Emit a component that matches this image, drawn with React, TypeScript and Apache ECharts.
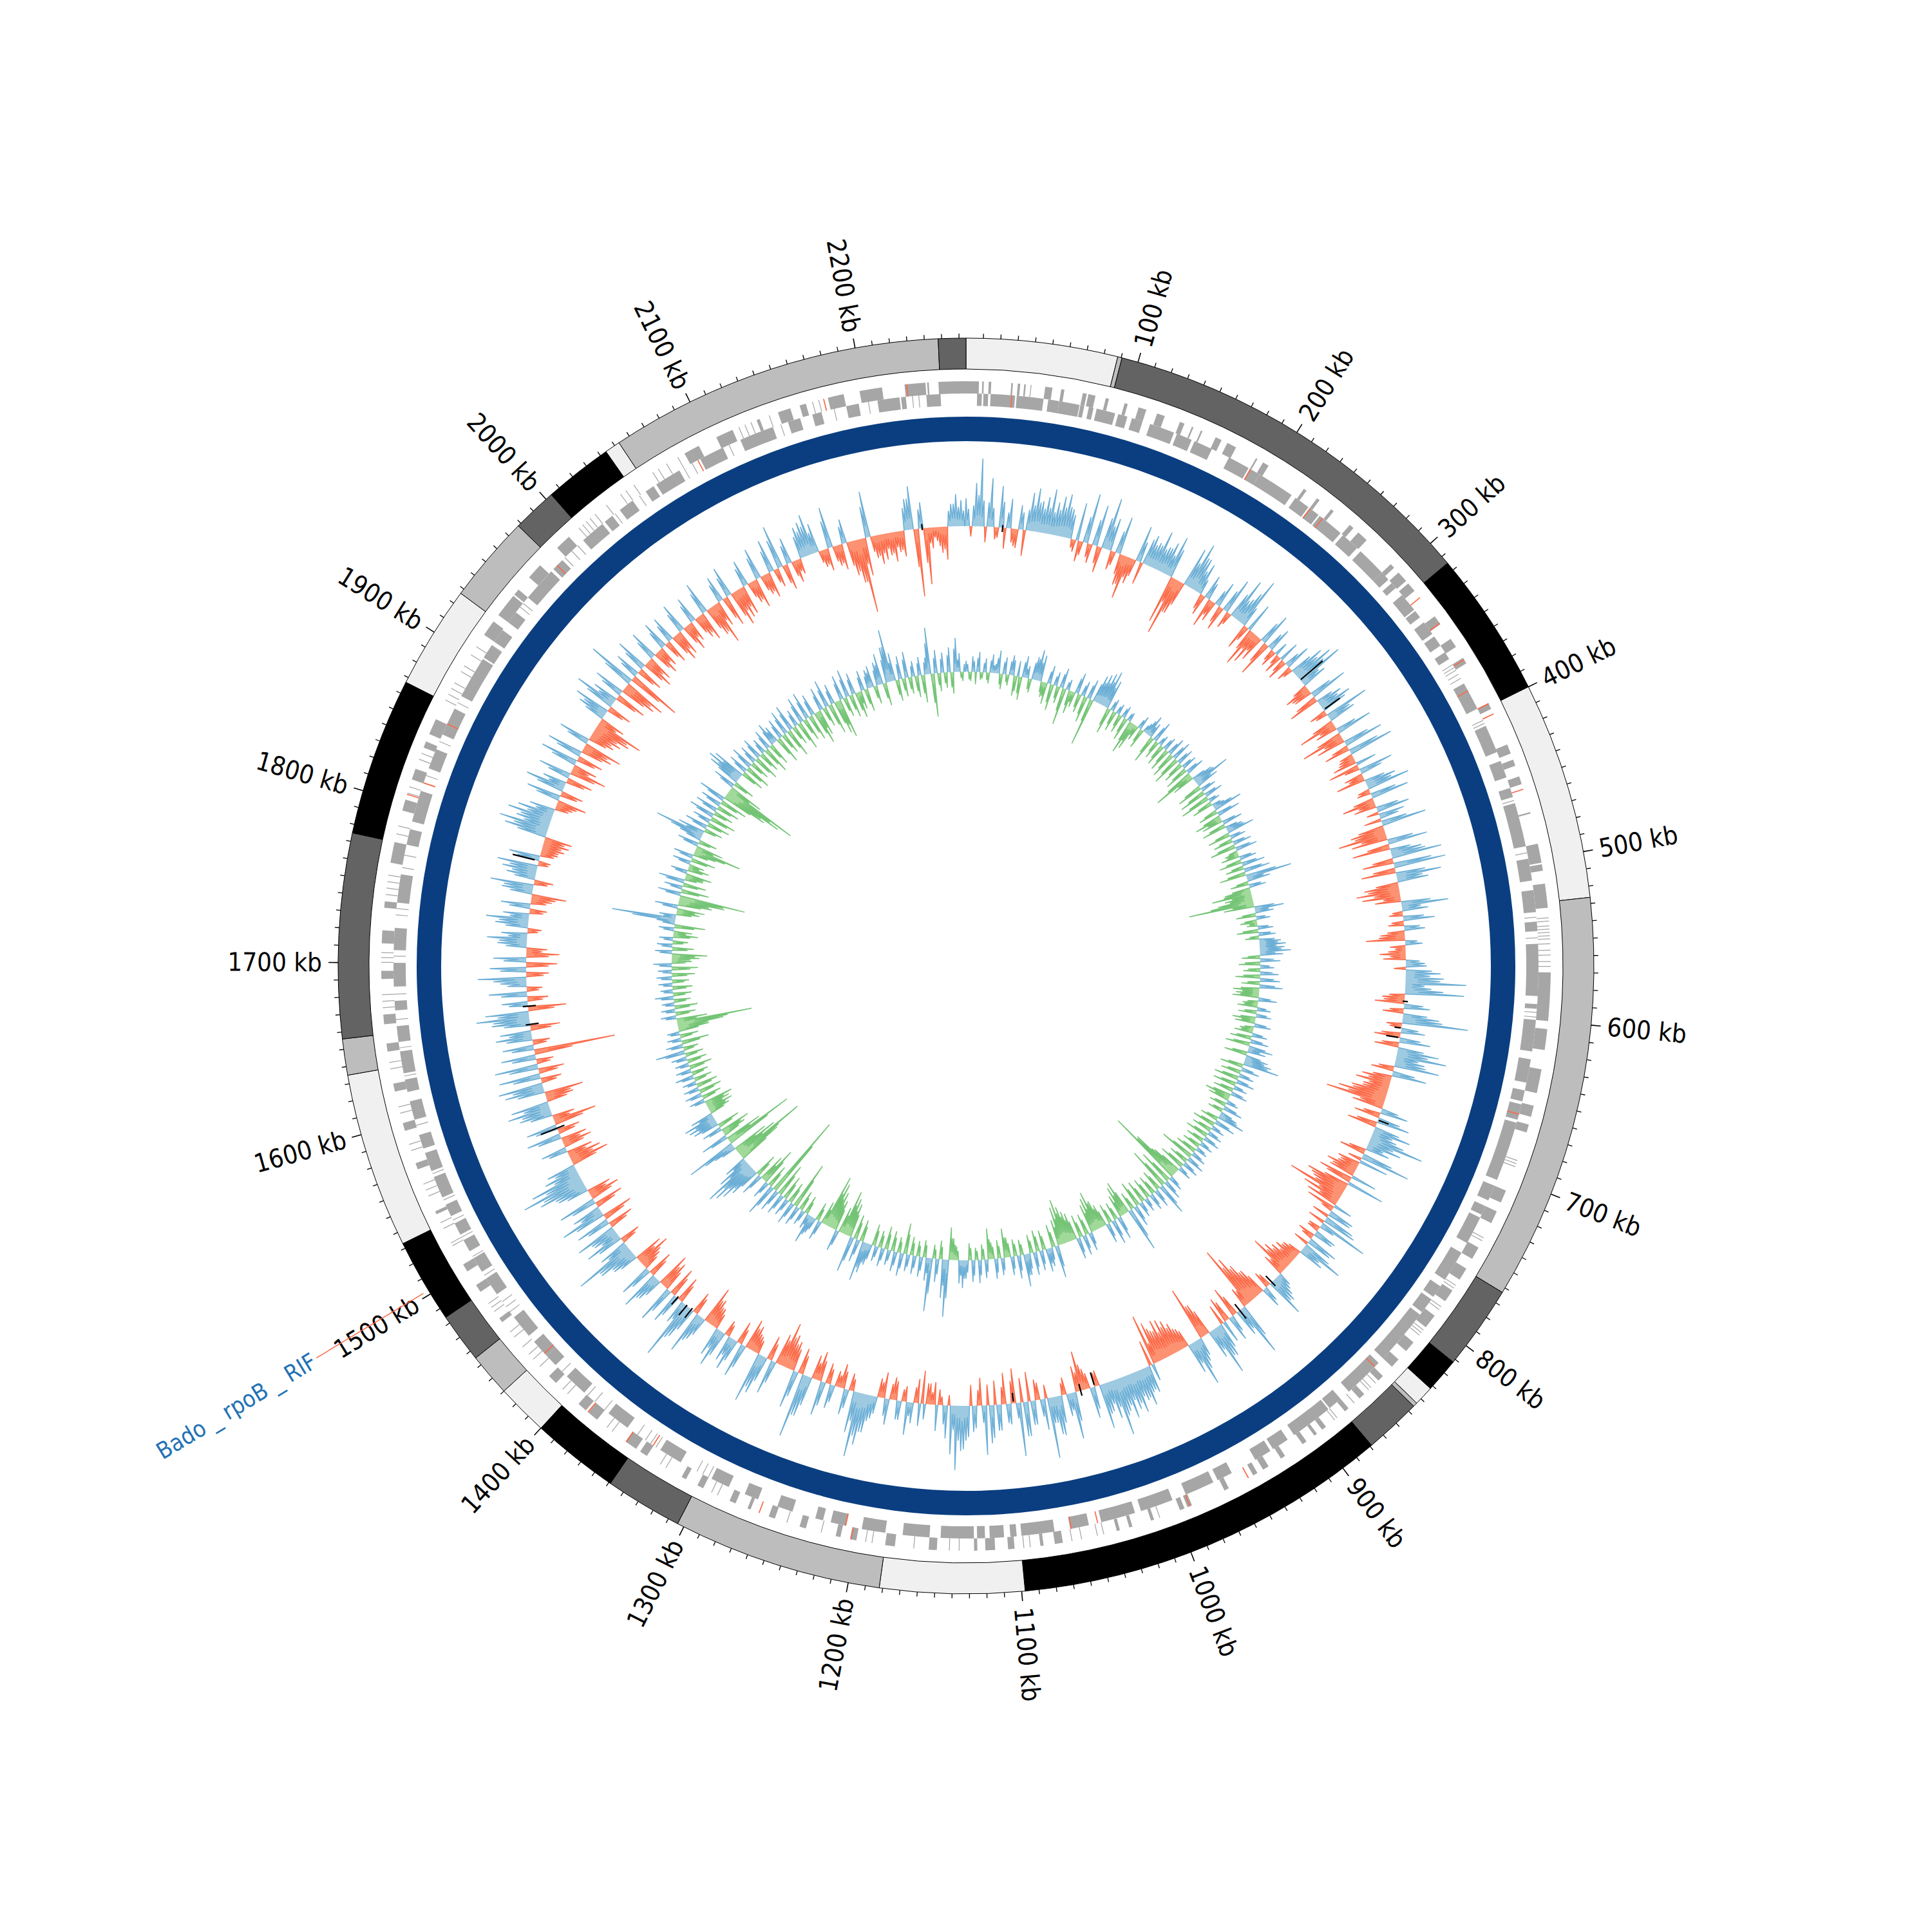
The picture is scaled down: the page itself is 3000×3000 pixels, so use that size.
import React, { useEffect, useRef } from "react";
import * as echarts from "echarts";

const GENOME_KB = 2264;
const STEP_KB = 4;
const contigEnds = [88, 90.5, 315, 400, 526.5, 763, 812, 832, 843.5, 846, 879, 1098, 1182, 1304, 1349, 1400, 1430, 1455, 1484, 1533, 1635, 1656, 1775, 1867, 1927, 1978, 2004, 2044, 2053, 2248, 2264];
const contigColors = ["#F0F0F0", "#BDBDBD", "#636363", "#000000", "#F0F0F0", "#BDBDBD", "#636363", "#000000", "#F0F0F0", "#BDBDBD", "#636363", "#000000", "#F0F0F0", "#BDBDBD", "#636363", "#000000", "#F0F0F0", "#BDBDBD", "#636363", "#000000", "#F0F0F0", "#BDBDBD", "#636363", "#000000", "#F0F0F0", "#BDBDBD", "#636363", "#000000", "#F0F0F0", "#BDBDBD", "#636363"];
const tickLabelsKb = [100, 200, 300, 400, 500, 600, 700, 800, 900, 1000, 1100, 1200, 1300, 1400, 1500, 1600, 1700, 1800, 1900, 2000, 2100, 2200];

const outerGenes = [0,8,10,11,14,15.6,28,29,32,33.5,36,37,40,40.5,49,53.5,59,61,72.5,75,76,80.5,87,89,99,101,108,113,120,125,135,138,143,144,149,150,159,163,167,173,187,188,192,196,222,224,232,234,243,245,258,261,265,272,293,296,300,307,309,315,335,341,352,358,366,370,398,402,426,432,436,440,447,452,470,471,490,502,503,507,515,530,570,600,605,618,630,645,653,660,665,670,708,716,722,730,747,755,762,770,778,786,797,806,818,825,832,838,846,850,862,866,875,878,893,896,900,902,908,911,924,927,936,940,944,947,964,967,989,992,994,997,1014,1016,1028,1030,1036,1038,1072,1077,1084,1086,1102,1106,1114,1120,1125,1127,1150,1155,1176,1182,1200,1204,1210,1213,1232,1236,1252,1256,1268,1270,1278,1282,1300,1304,1312,1315,1340,1345,1348,1356,1378,1385,1387,1393,1412,1418,1462,1465,1485,1490,1500,1505,1540,1542,1570,1574,1595,1600,1620,1625,1645,1650,1662,1668,1690,1695,1712,1720,1734,1738,1762,1775,1795,1802,1815,1822,1836,1840,1845,1855,1915,1925,1930,1945,1946,1950,1960,1970,1985,1995,2083,2093,2105,2116,2132,2134,2146,2154,2160,2164,2178,2188,2198,2212,2226,2239,2240,2241,2247,2264];
const innerGenes = [7,10,11,14,15.5,31,32,49,52,59,59,72,72.5,75,78,81,83,95,97,103,106,113,118,134,136,146,148,160,172,186,187,194,194,218,221,231,232,239,240,257,259,271,274,293,293,299,302,306,312,324,325,330,334,343,345,352,357,362,380,398,410,428,434,445,452,458,462,490,498,512,518,532,538,544,552,585,590,593,600,620,625,640,645,652,654,664,666,704,708,718,722,728,730,748,755,775,780,788,790,800,802,838,842,868,875,884,885,912,917,928,930,941,958,968,971,990,999,1020,1024,1046,1054,1066,1076,1097,1100,1104,1108,1117,1120,1125,1127,1148,1155,1172,1183,1198,1208,1218,1223,1228,1243,1253,1266,1275,1286,1298,1320,1335,1360,1375,1395,1410,1420,1428,1428,1440,1445,1460,1478,1490,1495,1505,1510,1518,1522,1530,1535,1543,1548,1562,1566,1578,1581,1590,1600,1612,1618,1626,1630,1644,1650,1660,1670,1676,1685,1700,1708,1722,1738,1756,1775,1785,1790,1810,1825,1838,1848,1866,1875,1902,1903,1912,1915,1924,1930,1938,1950,1972,1974,1982,2000,2016,2018,2024,2030,2040,2050,2056,2058,2075,2090,2106,2118,2140,2150,2158,2166,2172,2188,2196,2208,2222,2223,2226,2239,2248];
// hairline genes, single narrow stripes seen between the blocks
const outerThin = [536,538,541,543,545,547,549,552,556,559,563,566,688,690,692,740,742,774,776,790,792,808,810,812,852,856,858,870,884,886,1010,1046,1050,1060,1066,1092,1096,1136,1142,1164,1190,1194,1222,1244,1290,1294,1326,1330,1366,1370,1402,1406,1426,1432,1436,1442,1450,1454,1470,1473,1476,1518,1520,1530,1534,1552,1556,1560,1582,1586,1606,1610,1634,1638,1672,1676,1680,1700,1703,1706,1742,1746,1750,1754,1780,1785,1806,1810,1828,1832,1868,1872,1876,1880,1888,1892,1900,1906,2003,2006,2009,2012,2016,2025,2036,2040,2046,2060,2064,2070,2078,2120,2124,2128,2140,2168,2172];
const innerThin = [366,368,370,373,376,406,408,460,494,535,548,595,598,712,715,1300,1304,1308,1338,1342,1346,1352,1378,1386,1392,1414,1464,1468,1472,1492,1506,1520,1532,1546,1564,1596,1628,1646,1664,1680,1704,1730,1734,1760,1768,1815,1820,1843,1870,1912,1942,1945,1984,1990,1995,2026,2045,2078,2084,2110,2145,2180,2202,2230,2234];
const outerHighlights = [320, 340, 367, 398, 405, 455, 950, 990, 1203, 1262, 1355, 1385, 1805, 2175, 2227];
const innerHighlights = [28.5, 187, 232, 242, 385, 660, 845, 1048, 1065, 1208, 1340, 1430, 1815, 1855, 1977, 2088];
const annotationKb = 1502.4;
const annotationText = "Bado _ rpoB _ RIF";

const outerSkew = [
32,-12,50,78,-18,56,-14,48,-24,34,-20,28,-30,44,50,36,42,52,38,46,50,34,-10,44,-16,
58,-22,48,-30,60,38,-16,44,-36,-50,-30,42,-26,36,30,46,30,38,48,-56,-68,-40,46,55,40,
36,-18,28,-34,-24,30,-28,42,-14,50,30,59,-30,34,-45,-38,-30,38,-42,28,-20,-12,24,-24,30,
-12,40,48,56,30,-30,-22,44,-36,30,38,-20,52,32,-44,-26,42,-50,-34,46,-30,52,-18,-28,-36,
40,-22,-34,36,50,-16,44,-38,-26,38,30,-20,52,-40,-56,-42,46,-44,36,58,-36,60,-40,52,36,
-40,-50,-44,-30,54,30,-16,36,-18,24,-28,-45,20,-12,-30,-26,22,-14,40,44,70,30,68,-26,-34,
30,-24,42,76,-14,28,-30,36,-28,48,58,34,52,-26,40,-34,-40,-30,-42,-56,-69,-36,32,-30,38,
-34,44,30,64,40,28,-30,58,34,-22,-36,-30,-40,44,-50,-40,-67,-46,-38,-34,30,-20,40,58,-14,
26,-20,36,-18,51,30,-22,-28,-30,-36,-47,-26,20,32,46,-20,24,-34,-46,-60,-75,-24,61,32,-36,
30,-30,-24,40,58,34,-40,-63,28,54,36,-24,-34,-40,-44,-46,-36,-48,-59,-30,28,44,36,48,42,
50,40,66,44,34,52,-16,36,-24,-46,-30,54,26,-14,46,30,70,36,-20,28,-34,40,62,-40,24,
-36,30,-28,44,57,-32,26,-24,40,52,74,56,38,-10,30,-14,-24,-38,-28,24,38,-14,22,-26,30,
-30,-22,26,44,60,75,48,-20,30,-28,-18,28,-24,40,-34,-28,48,75,-30,44,-34,-40,-52,-36,40,
-28,46,59,-20,-30,-35,40,-26,38,30,-18,44,34,-24,-32,-44,30,50,-26,40,70,28,-30,36,-34,
44,-34,-40,30,46,-30,38,-24,-40,-34,30,44,70,34,-24,44,30,48,-30,40,-36,52,34,-34,44,
-36,-28,36,56,74,60,40,34,-45,-38,-30,30,-34,-30,40,-26,36,-50,-26,38,50,44,-32,-45,46,
52,-24,48,-30,50,-20,40,-94,36,-20,42,36,-34,44,61,50,-44,30,-24,44,-18,30,56,-26,42,
-36,38,-38,-24,34,46,30,-16,38,49,30,-20,34,-24,-40,36,50,-22,34,40,47,-14,36,-20,-26,
-30,-32,50,58,40,52,42,30,-20,-34,40,-26,46,28,-30,38,-42,-28,44,-30,42,-36,-45,37,-30,
-36,-44,-56,-30,34,42,-28,49,30,-36,36,-42,-50,57,-62,30,-30,38,-36,-30,34,-30,-24,32,-28,
30,-34,-30,34,-32,-24,30,-28,-34,37,-36,-49,-30,30,-36,35,-42,-36,-34,30,-26,-34,36,-24,-30,
38,-22,50,-30,30,-26,-18,36,40,47,34,-20,-26,47,-24,-30,28,-40,-50,-86,-44,53,-26,-34,-30,
-26,-34,-24,-30,36,50,-78,30,-65,-24,-16,-30,-38,26,37,30];

const outerSkewMid = [
20,24,36,30,28,22,-12,30,18,-16,-22,20,24,30,34,28,30,26,30,34,36,28,-14,-24,30,
-16,30,-20,36,28,-22,26,-24,-34,-24,-20,24,30,26,28,26,30,24,34,-30,-40,-28,30,40,26,
18,-24,20,-18,18,-20,26,-20,30,26,40,24,-18,-26,-22,-20,26,-26,20,-14,16,-22,-16,18,-18,
26,32,36,24,-18,-24,26,-26,20,24,30,-14,28,-26,-20,24,-30,-24,30,-20,36,-16,-20,24,-18,
26,-18,24,30,-14,30,-24,-20,26,-14,22,30,-30,-36,-30,30,-26,24,40,-24,44,-26,34,30,-26,
-36,-30,-20,34,22,-12,24,-14,18,-20,-30,14,-18,-20,-18,16,24,30,28,40,22,44,-18,-24,22,
-16,28,46,-18,20,-22,24,-20,30,36,26,36,-18,26,-22,-26,-24,-30,-40,-44,-28,20,-20,26,-24,
30,24,40,30,20,-20,36,-16,-26,-24,-28,30,-30,-30,-44,-36,-28,-24,22,-14,28,36,-20,18,-14,
24,-14,30,34,24,-16,-22,-20,-26,-30,-20,16,26,30,-16,18,-24,-34,-44,-50,-20,40,26,-24,20,
-24,26,30,38,26,-30,-40,22,36,26,-20,-26,-30,-34,-30,-34,-40,-24,20,32,30,34,30,36,30,
34,44,32,26,36,-18,26,-18,-30,-22,34,20,-20,32,44,30,-16,20,-24,28,40,-28,18,-26,22,
-20,30,38,-24,20,-18,30,36,50,40,28,-12,22,-18,-26,-24,18,26,-18,16,-18,22,-22,-18,20,
-18,20,30,44,50,34,-14,22,-20,-14,20,-18,28,-24,-20,34,48,-22,30,-26,-30,-36,-30,26,-20,
30,40,-16,-22,-26,28,-18,26,22,-14,30,24,-18,-24,-30,22,34,-20,28,44,22,-22,26,-24,30,
-24,-28,22,32,-22,26,-18,-28,-24,22,30,44,26,-18,30,22,32,-22,28,-26,36,26,-24,30,-26,
-22,26,38,50,44,30,26,-30,-28,-22,22,-24,-22,28,-20,26,-34,-20,26,34,30,-24,-30,32,36,
-18,32,-22,34,-16,28,-44,26,-16,30,26,-24,30,42,36,-30,22,-18,30,-14,22,38,-20,30,-26,
26,-26,-18,24,32,22,-12,26,34,22,-16,24,-18,-28,26,34,-16,24,28,32,-12,26,-16,-20,-22,
-24,34,40,30,36,30,22,-16,-24,28,-20,32,20,-22,26,-30,-20,30,-22,30,-26,-30,26,-22,-26,
-30,-40,-22,24,30,-20,34,22,-26,26,-30,-36,36,-40,22,-22,26,-26,-22,24,-22,-18,22,-20,22,
-24,-22,24,-22,-18,22,-20,-24,26,-26,-34,-22,22,-26,24,-30,-26,-24,22,-18,-24,26,-18,-22,26,
-16,34,-22,22,-18,-14,26,30,34,24,-14,-18,32,-18,-22,20,-28,-36,-50,-30,36,-18,-24,-22,-18,
-24,-18,-22,26,36,-44,22,-40,-18,-12,-22,-26,18,26,22,18];

const innerSkew = [
14,-10,20,-16,26,-8,18,-14,24,12,30,-20,22,-14,26,-26,20,-30,28,16,-18,30,40,34,-20,
-28,24,-34,18,-22,26,-48,14,-30,-20,28,-24,20,-34,26,-62,36,40,44,49,38,-34,16,-26,14,
-24,16,-30,12,-44,-36,-20,18,-26,14,28,20,-36,28,-24,14,-28,18,-30,24,-34,26,-38,22,-28,
20,-32,24,-55,-30,28,49,30,-34,20,-36,24,-40,14,-28,16,38,-26,30,-36,-28,26,-32,22,36,
-30,20,-26,24,-34,28,-18,-24,22,-30,30,-24,34,-35,60,30,-24,22,-34,-52,-36,-46,-85,-40,38,
24,-26,18,-22,-14,20,-28,22,-18,28,34,32,40,30,-24,26,-28,18,-22,24,-32,26,-24,30,-34,
-30,-34,24,-20,-26,18,-24,20,-30,-26,22,-18,-24,20,-28,24,-32,32,24,-30,30,36,47,-30,24,
-26,20,-32,24,-30,18,-26,22,-34,-28,16,-22,26,-20,24,36,-24,28,-30,18,-26,20,-30,22,-24,
18,-24,16,-28,20,-45,24,-26,22,-34,18,-40,-68,-100,20,-46,26,-55,42,-28,24,-26,22,-28,18,
-30,20,-34,28,-24,58,-45,-40,-30,30,-24,32,-26,26,-30,-38,-52,-45,-38,24,-28,26,-30,28,-36,
-40,-48,-59,-50,-34,42,-30,24,30,-26,26,-28,30,-24,28,42,-20,30,-22,24,-26,-38,22,-24,26,
-22,-40,24,-20,30,-16,28,-22,24,36,30,-18,-28,-42,74,50,-24,30,-18,69,30,-22,26,-20,24,
-24,22,-40,30,-20,26,-26,20,-30,24,-22,20,-28,28,40,52,-28,30,-32,47,-44,-50,-58,-34,28,
-40,-50,-60,-68,-30,26,-24,22,38,20,-24,20,-26,26,-62,30,-28,24,-32,28,-44,30,-110,43,-30,
24,-50,-36,30,-30,40,52,60,67,44,30,-60,-97,-60,-48,30,66,-92,-50,36,-32,-40,26,-30,34,
38,42,30,-28,-34,-32,-38,20,-26,22,-30,20,-28,18,-24,24,-22,20,-30,18,-26,20,-24,38,-20,
22,-36,18,-24,16,-40,-60,-98,-40,20,-26,18,-30,16,-22,24,-24,16,-26,18,-22,20,-30,18,-34,
24,-26,-36,-46,22,-28,20,-20,18,-32,-24,20,-40,24,83,22,-30,-36,30,-44,-60,-86,30,-36,24,
-30,34,-24,-34,22,-28,-20,24,-32,26,-30,-62,-36,28,-24,30,65,36,-24,30,-30,24,-34,34,-26,
30,-30,28,-36,36,-60,-80,-98,-46,30,-28,44,50,44,-30,26,-34,30,-26,24,-34,28,-28,20,-36,
26,-30,30,22,-36,26,-28,32,-38,34,-26,22,-38,34,-30,36,-34,28,-44,-34,30,-26,36,-40,26,
-44,-51,32,-26,36,-30,28,-34,-24,26,-30,24,28,-24,30,40,-30,46,68,36,-28,30,-24,34,-22,
20,-28,24,-36,22,60,-56,30,-24,26,-20,32,-28,44,24,-12];

const innerSkewMid = [
10,-12,14,18,-10,12,-10,16,10,20,-14,16,-10,18,20,-20,-22,20,12,-14,22,28,24,-14,-18,
16,-24,12,-16,18,-30,10,-20,-14,20,-18,14,-24,18,-30,24,28,30,34,28,-24,12,-18,10,-16,
12,-20,10,-28,-26,-14,12,-18,10,20,14,-24,20,-16,10,-20,14,-20,16,-24,18,-26,16,-20,14,
-22,16,-36,-22,18,30,22,-24,14,-24,16,-28,10,-20,12,26,-18,20,-24,-20,18,-22,16,24,-20,
14,-18,16,-24,20,-12,-16,16,-20,20,-16,24,-24,40,22,-16,16,-24,-36,-26,-30,-56,-28,26,18,
-18,12,-16,-10,14,-20,16,-12,20,24,22,28,20,-16,18,-20,12,-16,16,-22,18,-16,20,-24,-22,
-24,16,-14,-18,12,-16,14,-20,-18,16,-12,-16,14,-20,16,-22,22,16,-20,20,26,32,-20,16,-18,
14,-22,16,-20,12,-18,16,-24,-20,12,-16,18,-14,16,26,-16,20,-20,12,-18,14,-20,16,-16,12,
-16,12,-20,14,-30,16,-18,16,-24,12,-28,-44,-66,14,-30,18,-36,30,-20,16,-18,16,-20,12,-20,
14,-24,20,-16,40,-30,-28,-20,20,-16,22,-18,18,-20,-26,-36,-30,-26,16,-20,18,-20,20,-24,-28,
-34,-40,-34,-24,28,-20,16,20,-18,18,-20,20,-16,20,28,-14,20,-16,16,-18,-26,16,-16,18,-16,
-26,16,-14,20,-12,20,-16,16,24,20,-12,-20,-28,50,34,-16,20,-12,46,20,-16,18,-14,16,-16,
16,-26,20,-14,18,-18,14,-20,16,-16,14,-20,20,26,34,-20,20,-22,32,-30,-34,-40,-24,20,-28,
-34,-40,-46,-20,18,-16,16,26,14,-16,14,-18,18,-40,20,-20,16,-22,20,-30,20,-74,30,-20,16,
-34,-24,20,-20,26,34,40,44,30,20,-40,-64,-40,-32,20,44,-60,-34,24,-22,-28,18,-20,24,26,
28,20,-20,-24,-22,-26,14,-18,16,-20,14,-20,12,-16,16,-16,14,-20,12,-18,14,-16,26,-14,16,
-24,12,-16,12,-26,-40,-66,-26,14,-18,12,-20,12,-16,16,-16,12,-18,12,-16,14,-20,12,-24,16,
-18,-24,-30,16,-20,14,-14,12,-22,-16,14,-26,16,56,16,-20,-24,20,-30,-40,-58,20,-24,16,-20,
24,-16,-24,16,-20,-14,16,-22,18,-20,-42,-24,20,-16,20,44,24,-16,20,-20,16,-24,24,-18,20,
-20,20,-24,24,-40,-54,-66,-30,20,-20,30,34,30,-20,18,-24,20,-18,16,-24,20,-20,14,-24,18,
-20,20,16,-24,18,-20,22,-26,24,-18,16,-26,24,-20,24,-24,20,-30,-24,20,-18,24,-28,18,-30,
-34,22,-18,24,-20,20,-24,-16,18,-20,16,20,-16,20,26,-20,30,46,24,-20,20,-16,24,-16,14,
-20,16,-24,16,40,-38,20,-16,18,-14,22,-20,30,16,-8,10];

const blackMarkKb = [311, 342, 30, 595, 617, 625, 695, 855, 890, 1037, 1025, 1093, 1375, 1380, 1390, 1562, 1650, 1665, 1785, 2228];
const blackMarkLow = [1, 2, -5, -2, -8, -16, 1, -10, -9, -8, -17, -12, -2, -1, -2, -9, -10, -9, 5, -2];
const blackMarkHigh = [34, 23, 3, 4, -1, -2, 13, 6, 12, 6, -2, -2, 12, 14, 10, 20, 5, 6, 31, 5];

const CX = 1500, CY = 1500;
const R = { tickMinor: 982, tickMajor: 990, outer: 975, inner: 927, g1: 908, g2: 889, g3: 870, ringO: 853, ringI: 815, skewA: 683, skewB: 457, labelR: 1000, annoA: 984, annoB: 1178, annoText: 1182 };
const UNIT_A = 1.35, UNIT_B = 1.2;
const FONT = "'DejaVu Sans Condensed','DejaVu Sans',sans-serif";

function angleOf(api: any, kb: number) {
  const p = api.coord([100, kb]);
  const c = api.coord([0, 0]);
  return Math.atan2(p[1] - c[1], p[0] - c[0]);
}

function sector(api: any, a: number, b: number, r0: number, r: number, style: any) {
  const c = api.coord([0, 0]);
  return {
    type: "sector",
    shape: { cx: c[0], cy: c[1], r0, r, startAngle: angleOf(api, a), endAngle: angleOf(api, b === GENOME_KB ? GENOME_KB - 0.001 : b), clockwise: true },
    style,
  };
}

function genePairs(flat: number[]) {
  const out: number[][] = [];
  for (let i = 0; i + 1 < flat.length; i += 2) out.push([flat[i], flat[i + 1]]);
  return out;
}

function skewSeries(coarse: number[], mid: number[], base: number, unit: number, posFill: string, posLine: string, negFill: string, negLine: string) {
  const half = STEP_KB / 2;
  const shoulder = 0.9;
  return {
    type: "custom",
    coordinateSystem: "polar",
    silent: true,
    data: [[0, 0]],
    renderItem: (_: any, api: any) => {
      const children: any[] = [];
      const merged: number[][] = [];
      coarse.forEach((v, i) => {
        merged.push([i * STEP_KB, v]);
        if (i < mid.length) merged.push([i * STEP_KB + half, mid[i]]);
      });
      const flush = (run: number[][], positive: boolean) => {
        const line = run.map((q) => api.coord([base + q[1] * unit, q[0]]));
        const back = run.slice().reverse().map((q) => api.coord([base, q[0]]));
        children.push({ type: "polygon", shape: { points: line.concat(back) }, style: { fill: positive ? posFill : negFill, stroke: null } });
        children.push({ type: "polyline", shape: { points: line }, style: { fill: null, stroke: positive ? posLine : negLine, lineWidth: 1.5 } });
      };
      let run: number[][] = [];
      merged.forEach((m, j) => {
        const next = merged[j + 1];
        if (run.length === 0) run.push([m[0] - shoulder, 0]);
        run.push(m);
        if (next && next[1] >= 0 === m[1] >= 0) {
          const mn = Math.min(Math.abs(m[1]), Math.abs(next[1])) * 0.35;
          run.push([(m[0] + next[0]) / 2, m[1] >= 0 ? mn : -mn]);
        } else {
          run.push([m[0] + shoulder, 0]);
          flush(run, m[1] >= 0);
          run = [];
        }
      });
      return { type: "group", children };
    },
  };
}

export default function App() {
  const ref = useRef<HTMLDivElement>(null);
  useEffect(() => {
    const chart = echarts.init(ref.current!, null, { renderer: "svg" });
    const ticks: number[][] = [];
    for (let k = 10; k < GENOME_KB; k += 10) ticks.push([k, 0]);
    const contigs = contigEnds.map((e, i) => [i === 0 ? 0 : contigEnds[i - 1], e]);
    const geneFill = "#A6A6A6";
    const geneLayer = (rows: number[][], r0: number, r: number, fill: string) => ({
      type: "custom", coordinateSystem: "polar", silent: true, data: rows,
      renderItem: (_: any, api: any) => sector(api, api.value(0), api.value(1), r0, r, { fill }),
    });
    chart.setOption({
      animation: false,
      polar: { center: [CX, CY], radius: [0, 1500] },
      angleAxis: { type: "value", min: 0, max: GENOME_KB, startAngle: 90, clockwise: true, show: false },
      radiusAxis: { type: "value", min: 0, max: 1500, show: false },
      series: [
        {
          type: "custom", coordinateSystem: "polar", silent: true, data: contigs,
          renderItem: (p: any, api: any) => sector(api, api.value(0), api.value(1), R.inner, R.outer, { fill: contigColors[p.dataIndex], stroke: "#000", lineWidth: 1 }),
        },
        {
          type: "custom", coordinateSystem: "polar", silent: true, data: ticks,
          renderItem: (_: any, api: any) => {
            const k = api.value(0);
            const a = api.coord([R.outer, k]);
            const b = api.coord([k % 100 === 0 ? R.tickMajor : R.tickMinor, k]);
            return { type: "line", shape: { x1: a[0], y1: a[1], x2: b[0], y2: b[1] }, style: { stroke: "#000", lineWidth: k % 100 === 0 ? 1.6 : 1.3 } };
          },
        },
        {
          type: "custom", coordinateSystem: "polar", silent: true, data: tickLabelsKb.map((k) => [k, 0]),
          renderItem: (_: any, api: any) => {
            const k = api.value(0);
            const pt = api.coord([R.labelR, k]);
            const deg = (k / GENOME_KB) * 360;
            const right = deg < 180;
            const rot = right ? -(deg - 90) : -(deg - 270);
            return {
              type: "text", x: pt[0], y: pt[1], rotation: (rot * Math.PI) / 180,
              style: { text: `${k} kb`, fontSize: 40, fontFamily: FONT, fill: "#000", align: right ? "left" : "right", verticalAlign: "middle" },
            };
          },
        },
        geneLayer(genePairs(outerGenes), R.g2, R.g1, geneFill),
        geneLayer(genePairs(innerGenes), R.g3, R.g2, geneFill),
        geneLayer(outerThin.map((k) => [k, k + 0.5]), R.g2, R.g1, geneFill),
        geneLayer(innerThin.map((k) => [k, k + 0.5]), R.g3, R.g2, geneFill),
        geneLayer(outerHighlights.map((k) => [k, k + 0.7]), R.g2, R.g1, "#FB6A4A"),
        geneLayer(innerHighlights.map((k) => [k, k + 0.7]), R.g3, R.g2, "#FB6A4A"),
        {
          type: "custom", coordinateSystem: "polar", silent: true, data: [[0, 0]],
          renderItem: (_: any, api: any) => {
            const c = api.coord([0, 0]);
            return { type: "ring", shape: { cx: c[0], cy: c[1], r: R.ringO, r0: R.ringI }, style: { fill: "#0A3E80" } };
          },
        },
        skewSeries(outerSkew, outerSkewMid, R.skewA, UNIT_A, "#9ECAE1", "#6BAED6", "#FC9272", "#FB6A4A"),
        skewSeries(innerSkew, innerSkewMid, R.skewB, UNIT_B, "#9ECAE1", "#6BAED6", "#A1D99B", "#74C476"),
        {
          type: "custom", coordinateSystem: "polar", silent: true, data: blackMarkKb.map((k, i) => [k, blackMarkLow[i], blackMarkHigh[i]]),
          renderItem: (_: any, api: any) => {
            const k = api.value(0);
            const a = api.coord([R.skewA + api.value(1) * UNIT_A, k]);
            const b = api.coord([R.skewA + api.value(2) * UNIT_A, k]);
            return { type: "line", shape: { x1: a[0], y1: a[1], x2: b[0], y2: b[1] }, style: { stroke: "#000", lineWidth: 2.2 } };
          },
        },
        {
          type: "custom", coordinateSystem: "polar", silent: true, data: [[annotationKb, 0]],
          renderItem: (_: any, api: any) => {
            const k = api.value(0);
            const a = api.coord([R.annoA, k]);
            const b = api.coord([R.annoB, k]);
            const t = api.coord([R.annoText, k]);
            const deg = (k / GENOME_KB) * 360;
            return {
              type: "group",
              children: [
                { type: "line", shape: { x1: a[0], y1: a[1], x2: b[0], y2: b[1] }, style: { stroke: "#FB6A4A", lineWidth: 1.5 } },
                { type: "text", x: t[0], y: t[1], rotation: (-(deg - 270) * Math.PI) / 180, style: { text: annotationText, fontSize: 36, fontFamily: FONT, fill: "#2171B5", align: "right", verticalAlign: "middle" } },
              ],
            };
          },
        },
      ],
    });
    return () => chart.dispose();
  }, []);
  return <div ref={ref} style={{ position: "absolute", left: 0, top: 0, width: 3000, height: 3000, background: "#fff" }} />;
}
